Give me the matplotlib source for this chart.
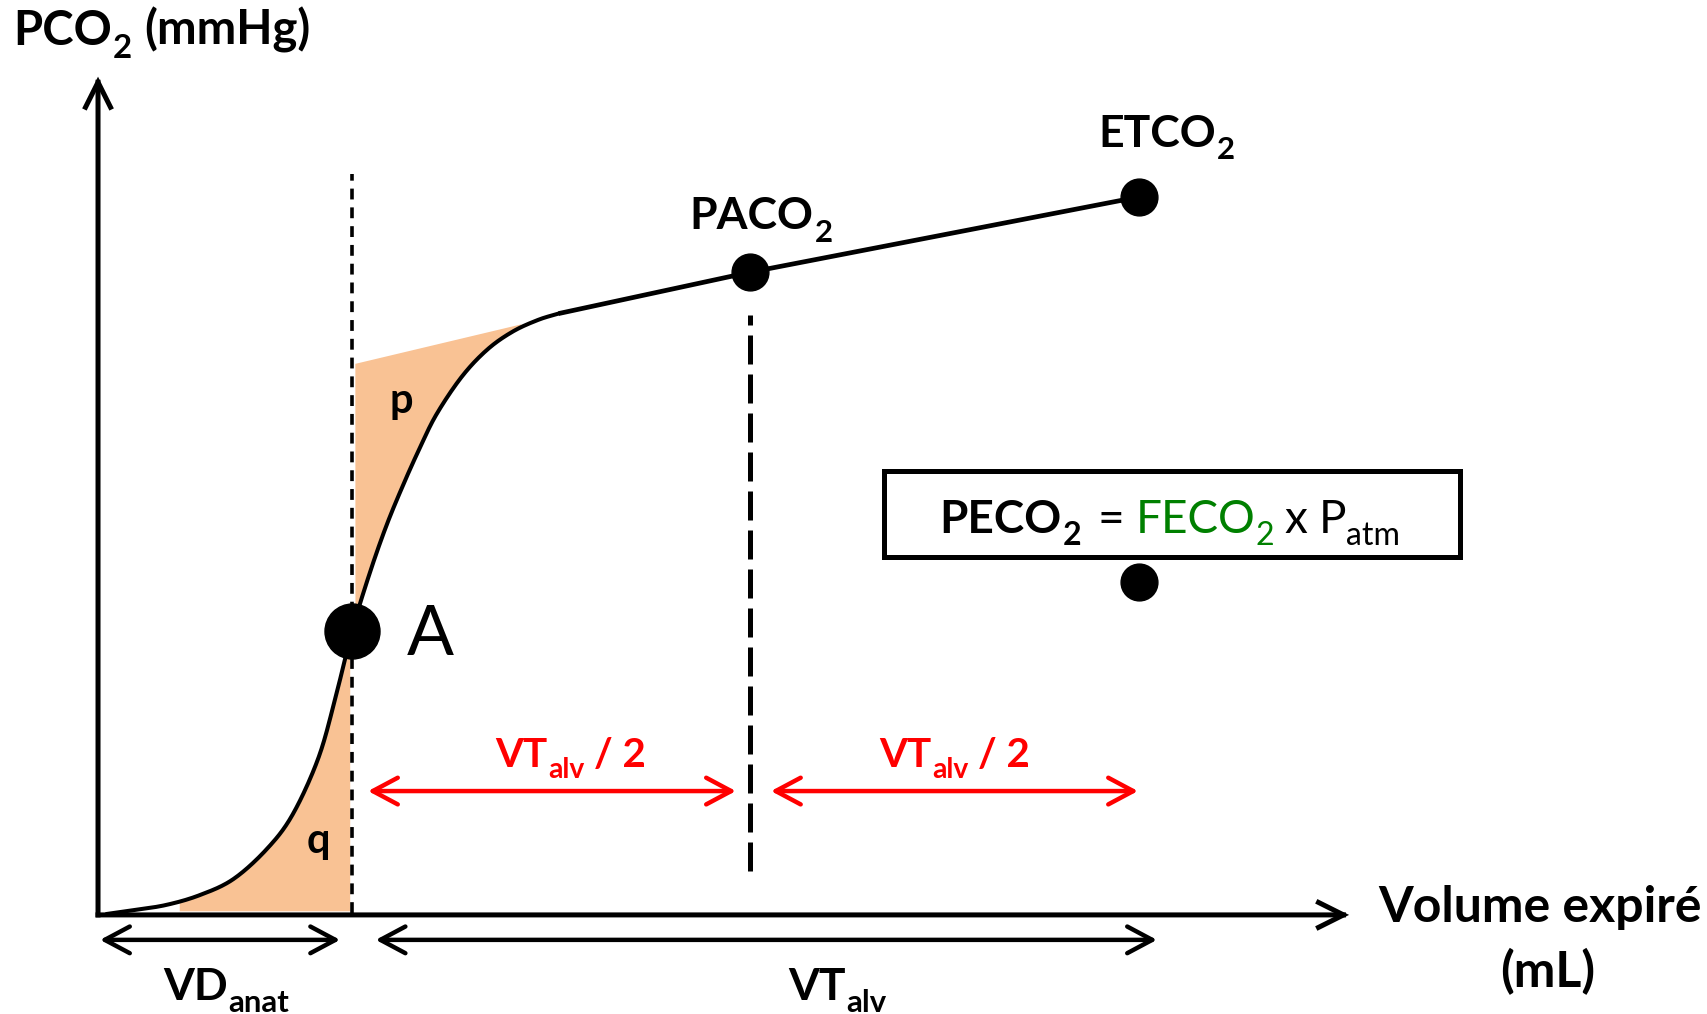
import numpy as np
import matplotlib
matplotlib.use("Agg")
import matplotlib.pyplot as plt
import matplotlib.transforms as mtransforms
from matplotlib.patches import Rectangle, Polygon

plt.rcParams["font.family"] = ["Lato", "DejaVu Sans"]

# Capnogram, phases I-II: expired volume (mL) vs PCO2 (mmHg)
vol_rise = [5, 20, 40, 60, 80, 100, 115, 130, 140, 150,
            160, 170, 180, 190, 200, 215, 230, 245, 260, 272]
pco2_rise = [0.05, 0.25, 0.55, 1.1, 2.0, 3.7, 5.6, 8.7, 12.0, 15.8,
             18.9, 21.6, 23.9, 26.0, 27.9, 30.0, 31.5, 32.5, 33.15, 33.5]

# Phase III (alveolar plateau)
vol_plateau = [272, 385, 615]
pco2_plateau = [33.5, 35.8, 40.0]

vd_anat = 150                 # anatomical dead space (mL)
point_A = (150, 15.8)
paco2_point = (385, 35.8)
etco2_point = (615, 40.0)
peco2_point = (615, 18.55)

# Shaded areas p (above the curve) and q (below the curve)
p_top_vol = [152, 250]
p_top_pco2 = [30.7, 32.9]
q_vol_range = [48, 149]

ORANGE = "#F9C294"
RED = "#FF0000"
GREEN = "#008000"


def catmull_rom(xs, ys, n=30):
    """Smooth polyline through the given points (Catmull-Rom -> cubic Bezier)."""
    pts = np.column_stack([xs, ys]).astype(float)
    ext = np.vstack([2 * pts[0] - pts[1], pts, 2 * pts[-1] - pts[-2]])
    t = np.linspace(0, 1, n)[:, None]
    out = [pts[:1]]
    for i in range(1, len(ext) - 2):
        p0, p1, p2, p3 = ext[i - 1], ext[i], ext[i + 1], ext[i + 2]
        c1 = p1 + (p2 - p0) / 6
        c2 = p2 - (p3 - p1) / 6
        seg = ((1 - t) ** 3) * p1 + 3 * ((1 - t) ** 2) * t * c1 \
            + 3 * (1 - t) * t ** 2 * c2 + t ** 3 * p2
        out.append(seg[1:])
    return np.vstack(out)


fig = plt.figure(figsize=(17.08, 10.14), dpi=100)
ax = fig.add_axes([0, 0, 1, 1])
ax.set_xlim(-57.9, 951.0)
ax.set_ylim(-5.52, 50.97)
ax.axis("off")
renderer = fig.canvas.get_renderer()


def rich_text(x, y, runs, size, color="black", weight="bold", zorder=4):
    """Draw a run of text pieces on a common baseline; pieces flagged as
    subscripts are drawn smaller and lowered."""
    cursor = ax.transData.transform((x, y))[0]
    for run in runs:
        txt = run[0]
        opt = run[1] if len(run) > 1 else {}
        cursor += opt.get("gap", 0) * fig.dpi / 72
        sub = opt.get("sub", False)
        fs = size * 0.7 if sub else size
        trans = ax.transData
        if sub:
            trans = mtransforms.offset_copy(ax.transData, fig=fig, x=0,
                                            y=-0.28 * size, units="points")
        xd = ax.transData.inverted().transform((cursor, 0))[0]
        t = ax.text(xd, y, txt, fontsize=fs, transform=trans, ha="left", va="baseline",
                    color=opt.get("color", color), fontweight=opt.get("weight", weight),
                    zorder=zorder)
        cursor = t.get_window_extent(renderer).x1


curve = catmull_rom(vol_rise, pco2_rise)

# area p: between the back-extrapolated plateau and the curve
sel = (curve[:, 0] >= p_top_vol[0]) & (curve[:, 0] <= p_top_vol[1])
p_poly = np.vstack([[p_top_vol[0], p_top_pco2[0]], [p_top_vol[1], p_top_pco2[1]],
                    curve[sel][::-1]])
ax.add_patch(Polygon(p_poly, closed=True, facecolor=ORANGE, edgecolor="none", zorder=1))

# area q: under the curve up to the dead-space limit
sel = (curve[:, 0] >= q_vol_range[0]) & (curve[:, 0] <= q_vol_range[1])
q_pts = curve[sel]
q_poly = np.vstack([q_pts, [q_pts[-1, 0], 0.2], [q_pts[0, 0], 0.2]])
ax.add_patch(Polygon(q_poly, closed=True, facecolor=ORANGE, edgecolor="none", zorder=1))

# axes drawn as arrows
axis_kw = dict(arrowstyle="->,head_length=0.9,head_width=0.45", lw=3.6, color="black",
               shrinkA=0, shrinkB=0, mutation_scale=20, capstyle="projecting",
               joinstyle="miter")
ax.annotate("", xy=(0, 46.7), xytext=(0, 0), arrowprops=axis_kw, zorder=3)
ax.annotate("", xy=(739, 0), xytext=(0, 0), arrowprops=axis_kw, zorder=3)

# vertical reference lines
ax.plot([vd_anat, vd_anat], [0.1, 41.3], color="black", lw=2.6,
        dashes=(3.0, 2.2), zorder=2)
ax.plot([paco2_point[0], paco2_point[0]], [2.45, 33.4], color="black", lw=3.6,
        dashes=(5.8, 2.0), zorder=2)

# capnogram
ax.plot(curve[:, 0], curve[:, 1], color="black", lw=2.9, zorder=4,
        solid_capstyle="round", solid_joinstyle="round")
ax.plot(vol_plateau, pco2_plateau, color="black", lw=3.4, zorder=4,
        solid_capstyle="butt")

# points
ax.plot(*point_A, "o", color="black", ms=39.6, zorder=5)
for pt in (paco2_point, etco2_point, peco2_point):
    ax.plot(*pt, "o", color="black", ms=26.5, zorder=5)

# double arrows
dbl = "<->,head_length=0.9,head_width=0.48"
for (x0, x1), y, col in [((159.5, 376.8), 6.9, RED), ((397.5, 614.3), 6.9, RED),
                         ((1.2, 143.0), -1.39, "black"), ((164.0, 625.5), -1.39, "black")]:
    ax.annotate("", xy=(x1, y), xytext=(x0, y),
                arrowprops=dict(arrowstyle=dbl, lw=3.2, color=col, shrinkA=0, shrinkB=0,
                                mutation_scale=20, joinstyle="round", capstyle="round"),
                zorder=3)

# labels
rich_text(-50.2, 48.47, [("PCO",), ("2", {"sub": True, "gap": 0.5}), ("(mmHg)", {"gap": 9})], 34)
rich_text(349.5, 38.2, [("PACO",), ("2", {"sub": True, "gap": 0.5})], 32)
rich_text(591.0, 42.8, [("ETCO",), ("2", {"sub": True, "gap": 0.5})], 32)
ax.text(196, 14.48, "A", fontsize=50, ha="center", va="baseline", fontweight="normal")
ax.text(179, 27.97, "p", fontsize=30, ha="center", va="baseline", fontweight="bold")
ax.text(130.2, 3.45, "q", fontsize=30, ha="center", va="baseline", fontweight="bold")
for x in (234.5, 461.6):
    rich_text(x, 8.25, [("VT",), ("alv", {"sub": True, "gap": 0.5}), ("/ 2", {"gap": 7})],
              29, color=RED)
rich_text(38.4, -4.74, [("VD",), ("anat", {"sub": True, "gap": 0.5})], 32)
rich_text(407.6, -4.74, [("VT",), ("alv", {"sub": True, "gap": 0.5})], 32)
ax.text(851.7, -0.41, "Volume expiré", fontsize=36, ha="center", va="baseline",
        fontweight="bold")
ax.text(856.2, -4.0, "(mL)", fontsize=36, ha="center", va="baseline", fontweight="bold")

# formula box
ax.add_patch(Rectangle((464.3, 19.94), 340.2, 4.8, facecolor="white", edgecolor="black",
                       lw=3.6, zorder=3))
rich_text(497.0, 21.3,
          [("PECO",), ("2", {"sub": True, "gap": 0.5}),
           ("=", {"weight": "normal", "gap": 12}),
           ("FECO", {"weight": "normal", "color": GREEN, "gap": 8}),
           ("2", {"weight": "normal", "color": GREEN, "sub": True, "gap": 0.5}),
           ("x", {"weight": "normal", "gap": 7}),
           ("P", {"weight": "normal", "gap": 8}),
           ("atm", {"weight": "normal", "sub": True, "gap": 0.5})], 33)

fig.savefig("out.png", dpi=100)
